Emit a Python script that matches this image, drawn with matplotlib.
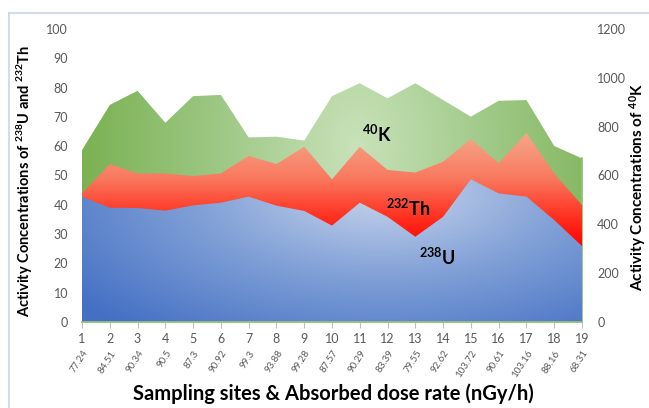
import numpy as np
import matplotlib
matplotlib.use("Agg")
import matplotlib.pyplot as plt
from matplotlib.colors import LinearSegmentedColormap
from matplotlib.lines import Line2D

plt.rcParams["font.family"] = ["Lato", "DejaVu Sans"]
plt.rcParams["mathtext.default"] = "regular"

# ------------------------------------------------------------------
# data
# ------------------------------------------------------------------
sites = list(range(1, 20))
dose_rate = ["77.24", "84.51", "90.34", "90.5", "87.3", "90.92", "99.3", "93.88", "99.28",
             "87.57", "90.29", "83.39", "79.55", "92.62", "103.72", "90.61", "103.16",
             "88.16", "68.31"]
u238 = [42.8, 39.0, 38.9, 38.0, 39.8, 40.7, 42.8, 39.7, 37.9, 32.9,
        40.7, 35.9, 29.1, 35.9, 48.7, 43.9, 42.8, 34.8, 25.9]
th232 = [43.9, 53.9, 50.7, 50.7, 49.8, 50.7, 56.7, 53.9, 59.8, 48.7,
         59.8, 51.9, 51.0, 54.7, 62.5, 54.2, 64.6, 50.7, 39.9]
k40 = [704, 889, 947, 816, 925, 930, 756, 759, 743, 925,
       978, 916, 978, 909, 841, 906, 909, 721, 670]

fig = plt.figure(figsize=(6.49, 4.08), dpi=100)
ax = fig.add_axes([82 / 649, 1 - 322 / 408, 500 / 649, 293 / 408])
ax2 = ax.twinx()
ax.set_zorder(ax2.get_zorder() + 1)
ax.patch.set_visible(False)


def gradient_fill(axis, x, y, ymax, img, cmap):
    poly = axis.fill_between(x, 0, y, facecolor="none", edgecolor="none")
    im = axis.imshow(img, extent=[x[0], x[-1], 0, ymax], origin="lower",
                     aspect="auto", cmap=cmap, vmin=0, vmax=1,
                     interpolation="bilinear")
    im.set_clip_path(poly.get_paths()[0], transform=axis.transData)


gx, gy = np.meshgrid(np.linspace(0, 1, 200), np.linspace(0, 1, 200))

# 40K - green, dark at the sides, light in the middle
green = LinearSegmentedColormap.from_list("g", ["#78af4e", "#9cc783", "#c9e2ba"])
dg = np.sqrt(((gx - 0.55) / 0.58) ** 2 + ((gy - 0.6) / 1.4) ** 2)
gradient_fill(ax2, sites, k40, 1200, 1 - np.clip(dg, 0, 1), green)

# 232Th - red, salmon on top going to pure red
red = LinearSegmentedColormap.from_list(
    "r", [(0, "#ff0000"), (0.38, "#ff0000"), (0.55, "#ff3322"),
          (0.75, "#f97a60"), (1, "#f4ab8c")])
gradient_fill(ax, sites, th232, 100, np.clip(gy * 100 / 66, 0, 1), red)

# 238U - blue, dark corners, light centre
blue = LinearSegmentedColormap.from_list("b", ["#4470c4", "#7e9ed6", "#c8d5ec"])
db = np.sqrt(((gx - 0.6) / 0.78) ** 2 + ((gy - 0.45) / 0.62) ** 2)
gradient_fill(ax, sites, u238, 100, 1 - np.clip(db, 0, 1), blue)

ax.set_xlim(1, 19)
ax.set_ylim(0, 100)
ax2.set_ylim(0, 1200)
ax.set_yticks(range(0, 101, 10))
ax2.set_yticks(range(0, 1201, 200))
ax.set_xticks(sites)
ax.set_xticklabels([str(s) for s in sites])

for a in (ax, ax2):
    for s in ("top", "left", "right"):
        a.spines[s].set_visible(False)
    a.spines["bottom"].set_color("#9bc47c")
    a.spines["bottom"].set_linewidth(1.2)
ax.tick_params(axis="y", length=0, pad=10, labelsize=9, labelcolor="#595959")
ax2.tick_params(axis="y", length=0, pad=11, labelsize=9, labelcolor="#595959")
ax.tick_params(axis="x", length=4, width=0.8, color="#bfbfbf", pad=4,
               labelsize=9, labelcolor="#595959")
ax2.plot([19, 19], [0, k40[-1]], color="#8fc06b", lw=1.2, clip_on=False)

for s, d in zip(sites, dose_rate):
    ax.annotate(d, xy=(s, 0), xycoords=("data", "axes fraction"),
                xytext=(3, -21), textcoords="offset points", rotation=57,
                rotation_mode="anchor", ha="right", va="center",
                fontsize=7, color="#595959")

ax.text(11.6, 64, "$^{40}$K", fontsize=13, fontweight="bold", ha="center", va="center")
ax.text(12.75, 39, "$^{232}$Th", fontsize=13, fontweight="bold", ha="center", va="center")
ax.text(13.8, 22, "$^{238}$U", fontsize=13, fontweight="bold", ha="center", va="center")

fig.text(25 / 649, 1 - 181 / 408, "Activity Concentrations of $^{238}$U and $^{232}$Th",
         rotation=90, ha="center", va="center", fontsize=10.5, fontweight="bold")
fig.text(638 / 649, 1 - 187 / 408, "Activity Concentrations of $^{40}$K",
         rotation=90, ha="center", va="center", fontsize=11, fontweight="bold")
fig.text(333 / 649, 1 - 394 / 408, "Sampling sites & Absorbed dose rate (nGy/h)",
         ha="center", va="center", fontsize=14.5, fontweight="bold")

# chart area border
fig.add_artist(Line2D([9 / 649, 9 / 649], [0, 1 - 13 / 408], color="#c8d6ea", lw=1.2))
fig.add_artist(Line2D([9 / 649, 1], [1 - 13 / 408, 1 - 13 / 408], color="#c8d6ea", lw=1.2))

fig.savefig("out.png", dpi=100)
